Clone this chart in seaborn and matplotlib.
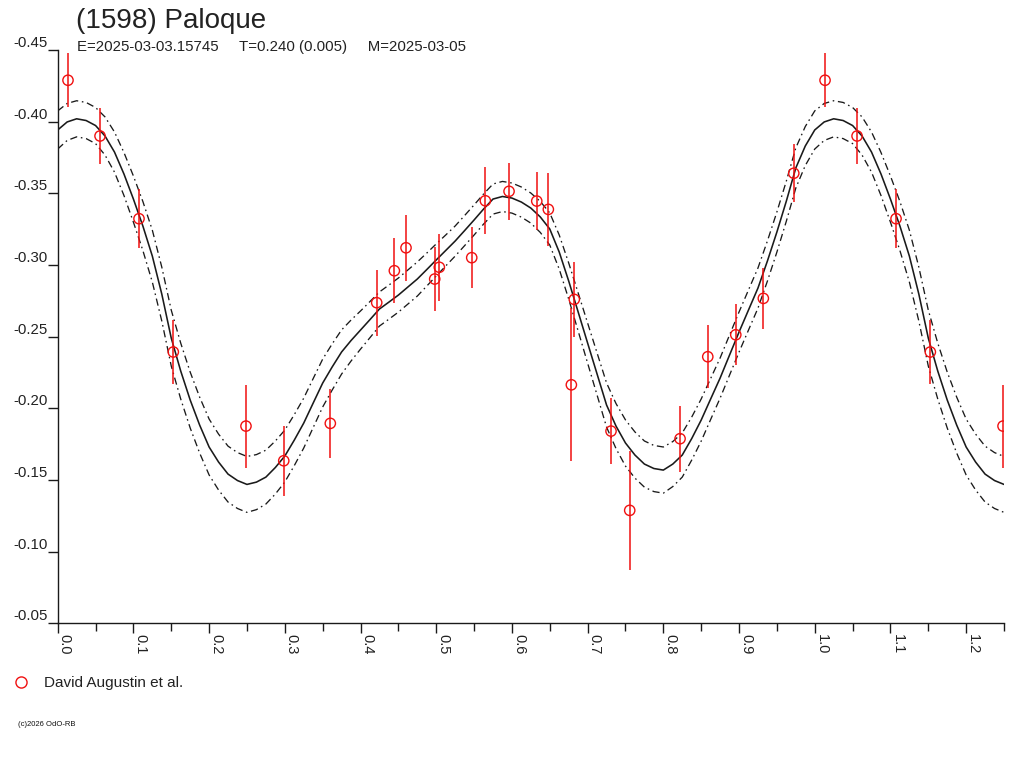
import numpy as np
import pandas as pd
import matplotlib
matplotlib.use("Agg")
import matplotlib.pyplot as plt
from matplotlib.lines import Line2D
from matplotlib.ticker import MultipleLocator, FormatStrFormatter
import seaborn as sns

# ---------------- data ----------------
title = "(1598) Paloque"
subtitle = "E=2025-03-03.15745     T=0.240 (0.005)     M=2025-03-05"
observer = "David Augustin et al."
copyright_txt = "(c)2026 OdO-RB"

# observations: rotational phase, relative magnitude, error
obs_phase = [0.0136, 0.0559, 0.1074, 0.1527, 0.2487, 0.2986, 0.3601, 0.4214,
             0.4447, 0.4601, 0.4980, 0.5041, 0.5469, 0.5649, 0.5962, 0.6328,
             0.6481, 0.6785, 0.6824, 0.7309, 0.7556, 0.8221, 0.8587, 0.8957,
             0.9321, 0.9723]
obs_mag = [-0.4289, -0.3900, -0.3323, -0.2393, -0.1876, -0.1634, -0.1895, -0.2737,
           -0.2960, -0.3120, -0.2902, -0.2984, -0.3051, -0.3448, -0.3514, -0.3446,
           -0.3388, -0.2164, -0.2760, -0.1841, -0.1288, -0.1788, -0.2360, -0.2513,
           -0.2767, -0.3640]
obs_err = [0.0189, 0.0192, 0.0206, 0.0224, 0.0289, 0.0243, 0.0239, 0.0230,
           0.0227, 0.0230, 0.0223, 0.0235, 0.0213, 0.0234, 0.0200, 0.0204,
           0.0253, 0.0535, 0.0260, 0.0232, 0.0414, 0.0230, 0.0221, 0.0214,
           0.0213, 0.0202]

# fitted lightcurve (read every 0.0125 in phase) and its uncertainty half-width
fit_phase = [0.0000, 0.0125, 0.0250, 0.0375, 0.0500, 0.0625, 0.0750, 0.0875,
             0.1000, 0.1125, 0.1250, 0.1375, 0.1500, 0.1625, 0.1750, 0.1875,
             0.2000, 0.2125, 0.2250, 0.2375, 0.2500, 0.2625, 0.2750, 0.2875,
             0.3000, 0.3125, 0.3250, 0.3375, 0.3500, 0.3625, 0.3750, 0.3875,
             0.4000, 0.4125, 0.4250, 0.4375, 0.4500, 0.4625, 0.4750, 0.4875,
             0.5000, 0.5125, 0.5250, 0.5375, 0.5500, 0.5625, 0.5750, 0.5875,
             0.6000, 0.6125, 0.6250, 0.6375, 0.6500, 0.6625, 0.6750, 0.6875,
             0.7000, 0.7125, 0.7250, 0.7375, 0.7500, 0.7625, 0.7750, 0.7875,
             0.8000, 0.8125, 0.8250, 0.8375, 0.8500, 0.8625, 0.8750, 0.8875,
             0.9000, 0.9125, 0.9250, 0.9375, 0.9500, 0.9625, 0.9750, 0.9875,
             1.0000]
fit_mag = [-0.3942, -0.3998, -0.4020, -0.4008, -0.3973, -0.3900, -0.3788, -0.3635,
           -0.3460, -0.3272, -0.3062, -0.2797, -0.2490, -0.2260, -0.2058, -0.1883,
           -0.1730, -0.1625, -0.1541, -0.1496, -0.1469, -0.1485, -0.1520, -0.1587,
           -0.1667, -0.1778, -0.1897, -0.2037, -0.2176, -0.2288, -0.2393, -0.2473,
           -0.2546, -0.2619, -0.2693, -0.2741, -0.2790, -0.2846, -0.2902, -0.2968,
           -0.3035, -0.3101, -0.3167, -0.3240, -0.3314, -0.3390, -0.3460, -0.3478,
           -0.3467, -0.3439, -0.3397, -0.3335, -0.3251, -0.3090, -0.2888, -0.2672,
           -0.2455, -0.2239, -0.2023, -0.1876, -0.1758, -0.1674, -0.1611, -0.1580,
           -0.1569, -0.1611, -0.1674, -0.1789, -0.1918, -0.2065, -0.2211, -0.2372,
           -0.2532, -0.2686, -0.2839, -0.3028, -0.3230, -0.3446, -0.3677, -0.3830,
           -0.3942]
fit_band = [0.0133, 0.0129, 0.0126, 0.0126, 0.0126, 0.0133, 0.0140, 0.0150,
            0.0161, 0.0171, 0.0181, 0.0188, 0.0195, 0.0195, 0.0195, 0.0195,
            0.0195, 0.0195, 0.0195, 0.0195, 0.0195, 0.0192, 0.0188, 0.0185,
            0.0181, 0.0178, 0.0174, 0.0171, 0.0167, 0.0161, 0.0154, 0.0143,
            0.0133, 0.0126, 0.0119, 0.0119, 0.0119, 0.0119, 0.0119, 0.0115,
            0.0112, 0.0108, 0.0105, 0.0105, 0.0105, 0.0105, 0.0105, 0.0105,
            0.0105, 0.0105, 0.0105, 0.0108, 0.0112, 0.0119, 0.0126, 0.0133,
            0.0140, 0.0147, 0.0154, 0.0157, 0.0161, 0.0161, 0.0161, 0.0161,
            0.0161, 0.0157, 0.0154, 0.0150, 0.0147, 0.0143, 0.0140, 0.0140,
            0.0140, 0.0140, 0.0140, 0.0140, 0.0140, 0.0140, 0.0140, 0.0136,
            0.0133]

x_max = 1.25

# ---------------- build tables (phase-folded, extended past 1.0) ----------------
obs = pd.DataFrame({"phase": obs_phase, "mag": obs_mag, "err": obs_err})
rep = obs[obs["phase"] + 1 <= x_max].copy()
rep["phase"] += 1
obs_all = pd.concat([obs, rep], ignore_index=True)

fit = pd.DataFrame({"phase": fit_phase, "mag": fit_mag, "band": fit_band})
fit_rep = fit[(fit["phase"] > 0) & (fit["phase"] + 1 <= x_max + 1e-9)].copy()
fit_rep["phase"] += 1
fit_all = pd.concat([fit, fit_rep], ignore_index=True)
fit_all["upper"] = fit_all["mag"] - fit_all["band"]
fit_all["lower"] = fit_all["mag"] + fit_all["band"]

# ---------------- style ----------------
sns.set_style("white")
plt.rcParams["font.family"] = ["Liberation Sans", "DejaVu Sans"]
plt.rcParams["axes.unicode_minus"] = False

W, H = 1024, 768
fig = plt.figure(figsize=(W / 100, H / 100), dpi=100)
left_px, right_px, top_px, bot_px = 57.7, 1004.0, 50.0, 623.3
ax = fig.add_axes([left_px / W, 1 - bot_px / H, (right_px - left_px) / W, (bot_px - top_px) / H])

ink = "#1a1a1a"
red = "#f01010"
dashdot = (0, (5.5, 2.8, 1.2, 2.8))

sns.lineplot(data=fit_all, x="phase", y="mag", ax=ax, color=ink, lw=1.15, sort=False)
sns.lineplot(data=fit_all, x="phase", y="upper", ax=ax, color=ink, lw=0.95, sort=False,
             linestyle=dashdot)
sns.lineplot(data=fit_all, x="phase", y="lower", ax=ax, color=ink, lw=0.95, sort=False,
             linestyle=dashdot)

ax.errorbar(obs_all["phase"], obs_all["mag"], yerr=obs_all["err"], fmt="none",
            ecolor=red, elinewidth=1.1, capsize=0, zorder=3)
sns.scatterplot(data=obs_all, x="phase", y="mag", ax=ax, marker="o", s=55,
                facecolor="none", edgecolor=red, linewidth=1.0, zorder=4)

ax.set_xlim(0, x_max)
ax.set_ylim(-0.05, -0.45)
ax.set_xlabel("")
ax.set_ylabel("")

ax.xaxis.set_major_locator(MultipleLocator(0.1))
ax.xaxis.set_minor_locator(MultipleLocator(0.05))
ax.xaxis.set_major_formatter(FormatStrFormatter("%.1f"))
ax.yaxis.set_major_locator(MultipleLocator(0.05))
ax.yaxis.set_major_formatter(FormatStrFormatter("%.2f"))

for s in ["top", "right"]:
    ax.spines[s].set_visible(False)
for s in ["left", "bottom"]:
    ax.spines[s].set_color(ink)
    ax.spines[s].set_linewidth(1.0)

ax.tick_params(axis="x", which="major", direction="out", length=7.2, width=1.0,
               color=ink, labelsize=10.5, labelcolor="#222222", pad=0.8, bottom=True)
ax.tick_params(axis="x", which="minor", direction="out", length=6, width=1.0,
               color=ink, bottom=True)
ax.tick_params(axis="y", which="major", direction="out", length=7.2, width=1.0,
               color=ink, labelsize=10.8, labelcolor="#222222", pad=0, left=True)
for lab in ax.get_xticklabels():
    lab.set_rotation(270)
    lab.set_ha("left")
    lab.set_va("top")
for lab in ax.get_yticklabels():
    lab.set_va("bottom")

# titles
fig.text(76 / W, 1 - 21 / H, title, fontsize=20, color="#222222", ha="left", va="center")
fig.text(77 / W, 1 - 47.5 / H, subtitle, fontsize=10.8, color="#222222", ha="left", va="center")

# legend
handle = Line2D([], [], marker="o", linestyle="none", markersize=8,
                markerfacecolor="none", markeredgecolor=red, markeredgewidth=1.0)
fig.legend([handle], [observer], loc="center left", bbox_to_anchor=(13 / W, 1 - 683 / H),
           frameon=False, fontsize=11, handlelength=1.0, handletextpad=1.0,
           borderpad=0, borderaxespad=0, labelcolor="#222222")

fig.text(18 / W, 1 - 725 / H, copyright_txt, fontsize=5.5, color="#111111",
         ha="left", va="center")

fig.savefig("out.png", dpi=100)
